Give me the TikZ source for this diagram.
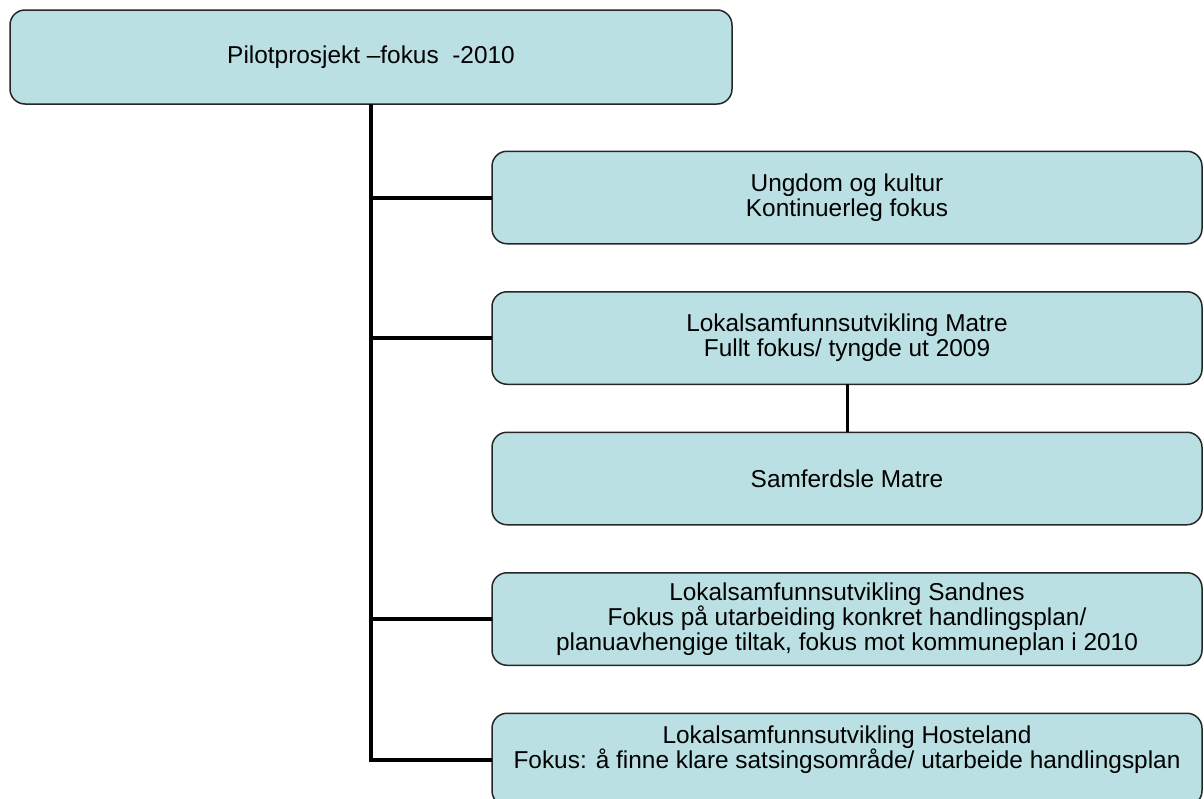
\documentclass[tikz,border=0pt]{standalone}
\usepackage{fontspec}
\setmainfont{Liberation Sans}
\usepackage{tikz}
\usetikzlibrary{positioning}

\definecolor{boxfill}{RGB}{186,224,227}

\begin{document}
\begin{tikzpicture}[x=0.5pt, y=-0.5pt,
	box/.style={draw=black!85, line width=0.75pt, fill=boxfill, rounded corners=7.5pt,
		align=center, outer sep=0pt, inner sep=2pt,
		font=\fontsize{12.2}{12.6}\selectfont},
	topbox/.style={box, minimum width=361pt, minimum height=47pt},
	itembox/.style={box, minimum width=355pt, minimum height=46.25pt},
	link/.style={line width=2pt}]
\useasboundingbox (0,0) rectangle (1204,798);
\clip (0,0) rectangle (1204,798);

\node[topbox] (pilot) at (371,57) {Pilotprosjekt --fokus\ \ -2010};
\node[itembox] (ungdom) at (847,197.5) {Ungdom og kultur\\Kontinuerleg fokus};
\node[itembox, below=24pt of ungdom] (matre) {Lokalsamfunnsutvikling Matre\\Fullt fokus/ tyngde ut 2009};
\node[itembox, below=24pt of matre] (samf) {Samferdsle Matre};
\node[itembox, below=24pt of samf] (sandnes) {Lokalsamfunnsutvikling Sandnes\\Fokus på utarbeiding konkret handlingsplan/\\planuavhengige tiltak, fokus mot kommuneplan i 2010};
\node[itembox, below=24pt of sandnes] (hosteland) {Lokalsamfunnsutvikling Hosteland\\Fokus: å finne klare satsingsområde/ utarbeide handlingsplan\\~};

\draw[link] (pilot.south) -- (pilot.south |- hosteland.west) -- (hosteland.west);
\draw[link] (pilot.south |- ungdom.west) -- (ungdom.west);
\draw[link] (pilot.south |- matre.west) -- (matre.west);
\draw[link] (pilot.south |- sandnes.west) -- (sandnes.west);
\draw[line width=1.5pt] (matre.south) -- (samf.north);

\end{tikzpicture}
\end{document}
